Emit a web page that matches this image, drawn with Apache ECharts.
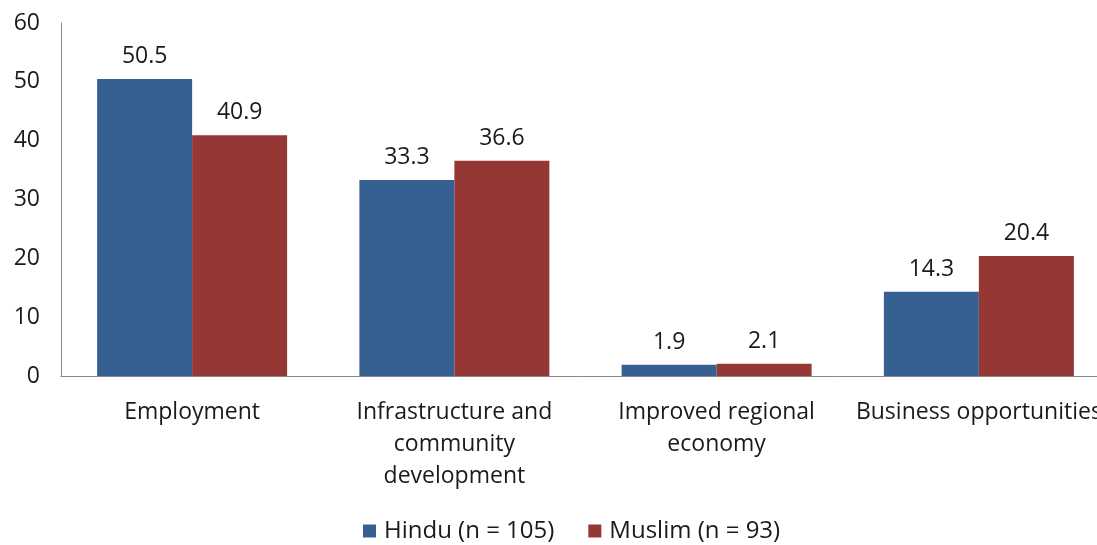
<!DOCTYPE html>
<html><head><meta charset="utf-8">
<script src="https://cdn.jsdelivr.net/npm/echarts@6/dist/echarts.min.js"></script>
<style>html,body{margin:0;padding:0;background:#fff}#c{width:1097px;height:545px}</style>
</head><body><div id="c"></div>
<script>
const categories = ['Employment', 'Infrastructure and\ncommunity\ndevelopment', 'Improved regional\neconomy', 'Business opportunities'];
const hinduValues = [50.5, 33.3, 1.9, 14.3];
const muslimValues = [40.9, 36.6, 2.1, 20.4];
const seriesNames = ['Hindu (n = 105)', 'Muslim (n = 93)'];
const FONT = 'Open Sans';
const TXT = '#1a1a1a';
const chart = echarts.init(document.getElementById('c'));
const labelStyle = {show: true, position: 'top', distance: 11, color: TXT, fontSize: 23, fontFamily: FONT};
chart.setOption({
  animation: false,
  textStyle: {fontFamily: FONT},
  grid: {left: 61, top: 23, right: -13, bottom: 169, containLabel: false, outerBoundsMode: 'none'},
  legend: {
    bottom: -3, left: 358, itemWidth: 13, itemHeight: 13, itemGap: 34,
    icon: 'rect',
    textStyle: {fontSize: 24, color: TXT, fontFamily: FONT, padding: [0, 0, 0, 3]},
    data: seriesNames
  },
  xAxis: {
    type: 'category', data: categories,
    axisLine: {lineStyle: {color: '#888'}},
    axisTick: {show: false},
    axisLabel: {color: TXT, fontSize: 23, fontFamily: FONT, lineHeight: 32, margin: 20, interval: 0}
  },
  yAxis: {
    type: 'value', min: 0, max: 60, interval: 10,
    axisLine: {show: true, lineStyle: {color: '#888'}},
    axisTick: {show: false},
    splitLine: {show: false},
    axisLabel: {color: TXT, fontSize: 23, fontFamily: FONT, margin: 21}
  },
  series: [
    {name: seriesNames[0], type: 'bar', data: hinduValues, barWidth: 95, barGap: '0%', itemStyle: {color: '#376092'}, label: labelStyle},
    {name: seriesNames[1], type: 'bar', data: muslimValues, barWidth: 95, barGap: '0%', itemStyle: {color: '#953735'}, label: labelStyle}
  ]
});
</script></body></html>
